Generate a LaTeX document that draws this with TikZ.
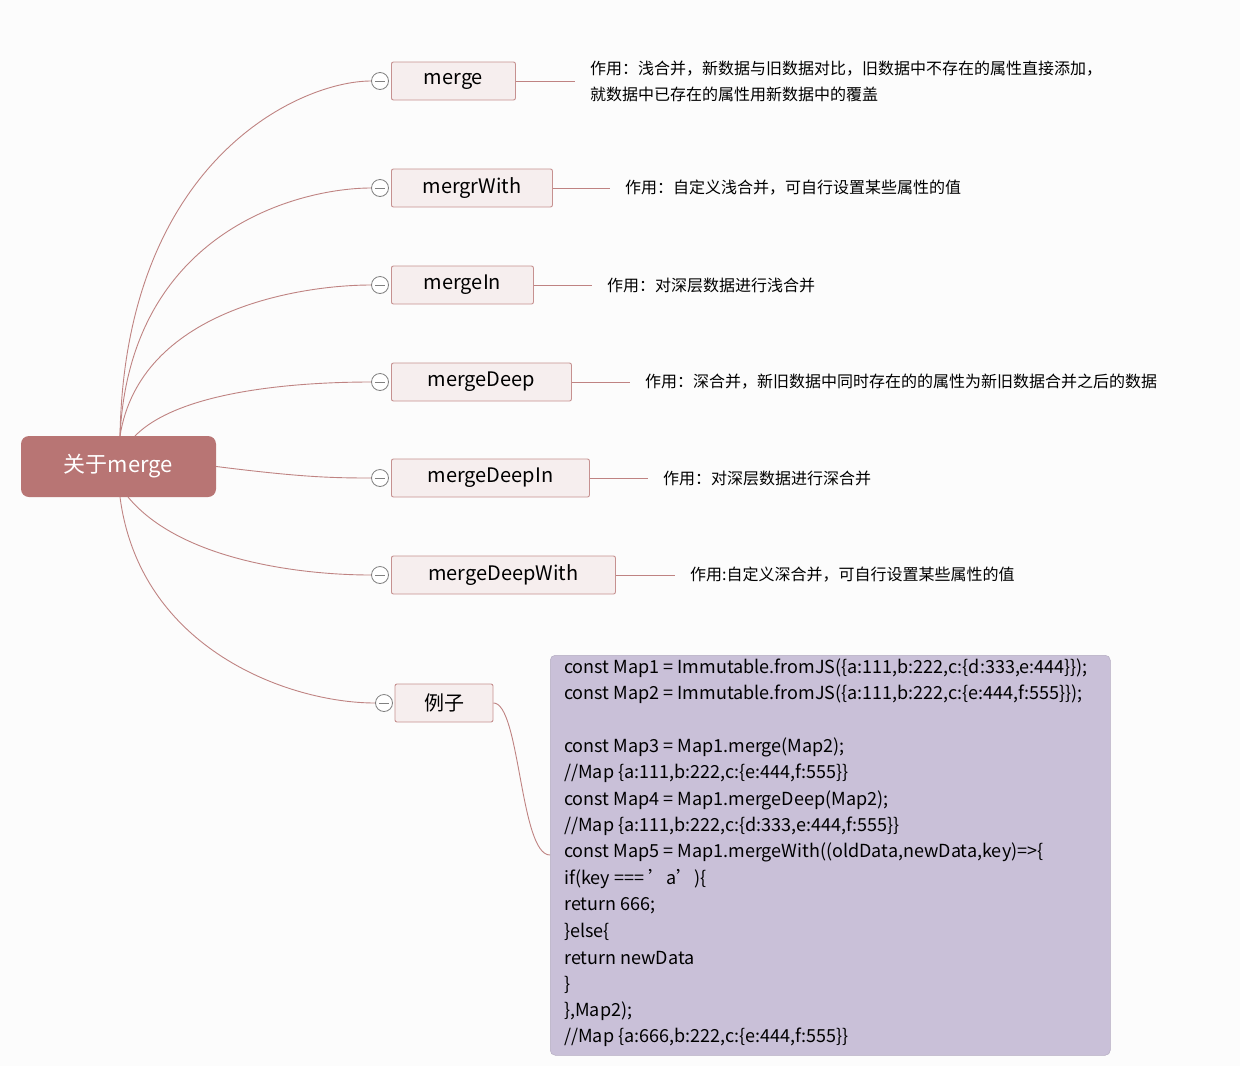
\documentclass[tikz,border=0pt]{standalone}
\usepackage{fontspec}
\setmainfont{Noto Sans CJK SC}
\begin{document}
\begin{tikzpicture}[x=1pt,y=-1pt,
  br/.style={draw=rootc!80,line width=0.9pt,fill=nodef,rounded corners=2pt,minimum height=38pt,inner xsep=0pt,font=\fontsize{20}{24}\selectfont},
  con/.style={draw=rootc!90,line width=0.9pt},
  tog/.style={circle,draw=gray,line width=0.8pt,fill=white,minimum size=17pt,inner sep=0pt},
  desc/.style={anchor=west,font=\fontsize{16}{26}\selectfont,align=left,inner sep=0pt},
  code/.style={anchor=west,font=\fontsize{18}{20}\selectfont,inner sep=0pt}]
\definecolor{rootc}{HTML}{B87574}
\definecolor{nodef}{HTML}{F6EEEE}
\definecolor{codef}{HTML}{C9C0D8}
\useasboundingbox (0,0) rectangle (1240,1066);
\fill[white!98!gray] (0,0) rectangle (1240,1066);
\node[fill=rootc,rounded corners=8pt,minimum width=195pt,minimum height=61pt,text=white,font=\fontsize{22}{26}\selectfont] (root) at (118.5,466.5) {关于merge};
\foreach \n/\t/\w/\y/\dx/\d in {
 a/merge/124/81/575/{作用：浅合并，新数据与旧数据对比，旧数据中不存在的属性直接添加，\\就数据中已存在的属性用新数据中的覆盖},
 b/mergrWith/161/188/610/{作用：自定义浅合并，可自行设置某些属性的值},
 c/mergeIn/142/285/592/{作用：对深层数据进行浅合并},
 d/mergeDeep/180/382/630/{作用：深合并，新旧数据中同时存在的的属性为新旧数据合并之后的数据},
 e/mergeDeepIn/198/478/648/{作用：对深层数据进行深合并},
 f/mergeDeepWith/224/575/675/{作用:自定义深合并，可自行设置某些属性的值}}{
  \node[br,minimum width=\w pt,anchor=west] (\n) at (391,\y) {\t};
  \node[tog] (\n t) at (380,\y) {};
  \draw[gray,line width=0.8pt] ([xshift=-5pt]\n t.center) -- ([xshift=5pt]\n t.center);
  \coordinate (\n e) at (\dx,\y);
  \draw[con] (\n.east) -- (\n e);
  \node[desc] (\n d) at ([xshift=15pt]\n e) {\d};
}
\node[br,minimum width=98pt] (g) at (444,703) {例子};
\node[tog] (gt) at (384,703) {};
\draw[gray,line width=0.8pt] ([xshift=-5pt]gt.center) -- ([xshift=5pt]gt.center);
% connectors
\draw[con] (120,436) .. controls (125,160) and (300,81) .. (at.west);
\draw[con] (120,436) .. controls (130,230) and (300,188) .. (bt.west);
\draw[con] (120,436) .. controls (140,310) and (300,285) .. (ct.west);
\draw[con] (135,436) .. controls (180,390) and (300,382) .. (dt.west);
\draw[con] (root.east) .. controls (300,477) and (330,478) .. (et.west);
\draw[con] (128,497) .. controls (180,560) and (300,575) .. (ft.west);
\draw[con] (120,497) .. controls (140,650) and (290,703) .. (gt.west);
% code box
\node[fill=codef,draw=codef!90!black,line width=0.5pt,rounded corners=5pt,minimum width=560pt,minimum height=400pt,anchor=north west,inner sep=0pt] (box) at (550,655) {};
\draw[con] (g.east) .. controls (520,703) and (520,855) .. (box.west |- 0,855);
\foreach \i/\s in {0/{const Map1 = Immutable.fromJS(\{a:111,b:222,c:\{d:333,e:444\}\});},
 1/{const Map2 = Immutable.fromJS(\{a:111,b:222,c:\{e:444,f:555\}\});},
 3/{const Map3 = Map1.merge(Map2);},
 4/{//Map \{a:111,b:222,c:\{e:444,f:555\}\}},
 5/{const Map4 = Map1.mergeDeep(Map2);},
 6/{//Map \{a:111,b:222,c:\{d:333,e:444,f:555\}\}},
 7/{const Map5 = Map1.mergeWith((oldData,newData,key)=>\{},
 8/{if(key === 'a')\{},
 9/{return 666;},
 10/{\}else\{},
 11/{return newData},
 12/{\}},
 13/{\},Map2);},
 14/{//Map \{a:666,b:222,c:\{e:444,f:555\}\}}}{
  \node[code] (l\i) at (564,{668+26.4*\i}) {\s};
}
\end{tikzpicture}
\end{document}
